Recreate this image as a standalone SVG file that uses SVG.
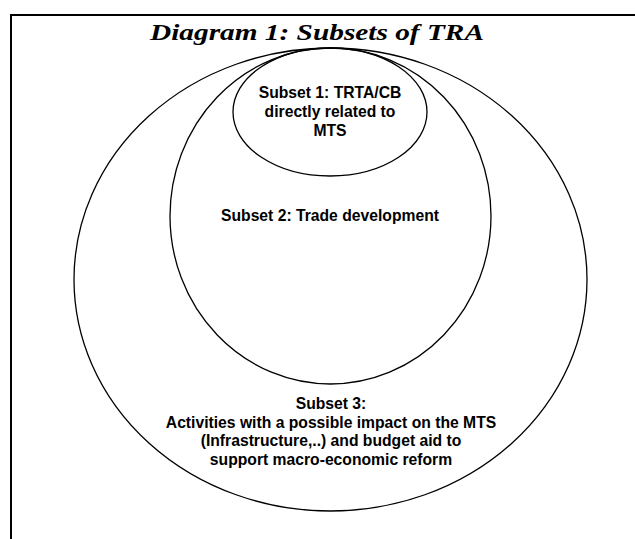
<svg xmlns="http://www.w3.org/2000/svg" width="635" height="539" viewBox="0 0 635 539">
  <style>
    .frame { stroke: #000; stroke-width: 2; fill: none; }
    .set { stroke: #000; stroke-width: 1.3; fill: none; }
    .title { font-family: "Liberation Serif", "Times New Roman", serif; font-weight: bold; font-style: italic; font-size: 23px; fill: #000; }
    .lbl { font-family: "Liberation Sans", Arial, sans-serif; font-weight: bold; font-size: 15.7px; fill: #000; text-anchor: middle; }
  </style>
  <rect width="635" height="539" fill="#fff"/>

  <!-- page frame, cut at the right and bottom edges -->
  <path class="frame" d="M11,539 V15 H635"/>

  <text class="title" x="150" y="40" textLength="334" lengthAdjust="spacingAndGlyphs">Diagram 1: Subsets of TRA</text>

  <g id="subset3">
    <ellipse class="set" cx="330.5" cy="279.5" rx="256.5" ry="231.5"/>
    <text class="lbl" x="331" y="409">Subset 3:</text>
    <text class="lbl" x="331" y="427.5">Activities with a possible impact on the MTS</text>
    <text class="lbl" x="331" y="446">(Infrastructure,..) and budget aid to</text>
    <text class="lbl" x="331" y="464.5">support macro-economic reform</text>
  </g>

  <g id="subset2">
    <ellipse class="set" cx="330.5" cy="216" rx="160.5" ry="168"/>
    <text class="lbl" x="330" y="221">Subset 2: Trade development</text>
  </g>

  <g id="subset1">
    <ellipse class="set" cx="330" cy="112" rx="97" ry="64"/>
    <text class="lbl" x="330" y="98">Subset 1: TRTA/CB</text>
    <text class="lbl" x="330" y="117">directly related to</text>
    <text class="lbl" x="330" y="136">MTS</text>
  </g>
</svg>
